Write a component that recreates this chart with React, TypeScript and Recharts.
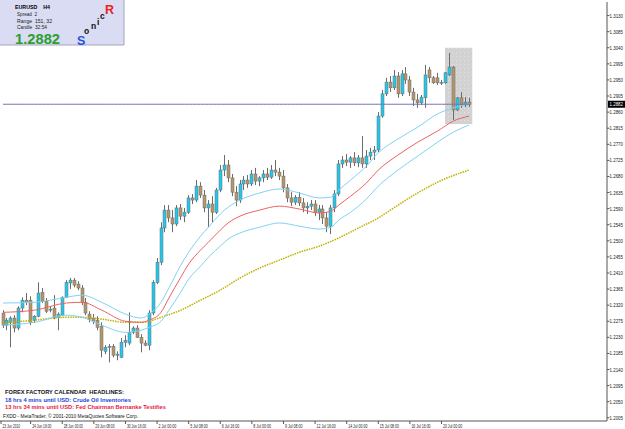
import { ComposedChart, Bar, Line, XAxis, YAxis, ReferenceArea } from "recharts";

// EURUSD H4, one entry per candle (oldest first)
const OPEN = [
  1.2298, 1.2264, 1.2272, 1.2284, 1.2256, 1.2312, 1.2334, 1.2334, 1.2278, 1.2289,
  1.2356, 1.2331, 1.2306, 1.2312, 1.2286, 1.2292, 1.2342, 1.2382, 1.2390, 1.2379,
  1.2368, 1.2328, 1.2295, 1.2284, 1.2278, 1.2261, 1.2191, 1.2202, 1.2205, 1.2180,
  1.2174, 1.2216, 1.2214, 1.2244, 1.2256, 1.2230, 1.2214, 1.2208, 1.2298, 1.2384,
  1.2440, 1.2536, 1.2586, 1.2564, 1.2547, 1.2592, 1.2569, 1.2580, 1.2620, 1.2614,
  1.2653, 1.2628, 1.2592, 1.2603, 1.2580, 1.2642, 1.2698, 1.2712, 1.2676, 1.2636,
  1.2614, 1.2659, 1.2670, 1.2659, 1.2687, 1.2667, 1.2676, 1.2687, 1.2678, 1.2698,
  1.2692, 1.2681, 1.2648, 1.2620, 1.2608, 1.2622, 1.2606, 1.2592, 1.2597, 1.2603,
  1.2580, 1.2589, 1.2564, 1.2541, 1.2592, 1.2631, 1.2715, 1.2726, 1.2720, 1.2732,
  1.2718, 1.2732, 1.2715, 1.2737, 1.2748, 1.2754, 1.2849, 1.2911, 1.2944, 1.2928,
  1.2961, 1.2911, 1.2967, 1.2950, 1.2916, 1.2894, 1.2886, 1.2900, 1.2978, 1.2956,
  1.2956, 1.2942, 1.2942, 1.2964, 1.2986, 1.2866, 1.2900, 1.2880, 1.2888,
];
const HIGH = [
  1.2306, 1.2284, 1.2289, 1.2292, 1.2317, 1.2342, 1.2354, 1.2345, 1.2292, 1.2384,
  1.2368, 1.2340, 1.2317, 1.2348, 1.2300, 1.2345, 1.2390, 1.2396, 1.2396, 1.2387,
  1.2376, 1.2340, 1.2303, 1.2295, 1.2289, 1.2272, 1.2208, 1.2211, 1.2211, 1.2191,
  1.2228, 1.2236, 1.2300, 1.2261, 1.2264, 1.2239, 1.2222, 1.2306, 1.2390, 1.2452,
  1.2552, 1.2600, 1.2600, 1.2586, 1.2600, 1.2603, 1.2592, 1.2628, 1.2631, 1.2670,
  1.2664, 1.2642, 1.2614, 1.2625, 1.2648, 1.2712, 1.2740, 1.2726, 1.2687, 1.2653,
  1.2670, 1.2681, 1.2684, 1.2698, 1.2704, 1.2681, 1.2698, 1.2704, 1.2712, 1.2726,
  1.2704, 1.2698, 1.2659, 1.2636, 1.2628, 1.2636, 1.2620, 1.2608, 1.2614, 1.2614,
  1.2600, 1.2600, 1.2580, 1.2600, 1.2642, 1.2726, 1.2737, 1.2743, 1.2737, 1.2748,
  1.2740, 1.2793, 1.2754, 1.2760, 1.2765, 1.2860, 1.2922, 1.2956, 1.2961, 1.2978,
  1.2972, 1.2978, 1.2986, 1.2961, 1.2928, 1.2911, 1.2908, 1.2992, 1.2986, 1.2961,
  1.2970, 1.2950, 1.2972, 1.3026, 1.2989, 1.2902, 1.2916, 1.2902, 1.2900,
];
const LOW = [
  1.2256, 1.2250, 1.2202, 1.2244, 1.2250, 1.2300, 1.2320, 1.2264, 1.2270, 1.2286,
  1.2326, 1.2298, 1.2300, 1.2281, 1.2250, 1.2289, 1.2340, 1.2365, 1.2370, 1.2362,
  1.2320, 1.2292, 1.2272, 1.2267, 1.2250, 1.2174, 1.2183, 1.2160, 1.2174, 1.2166,
  1.2172, 1.2202, 1.2208, 1.2239, 1.2228, 1.2188, 1.2205, 1.2194, 1.2292, 1.2379,
  1.2432, 1.2524, 1.2552, 1.2524, 1.2541, 1.2558, 1.2552, 1.2575, 1.2603, 1.2608,
  1.2620, 1.2580, 1.2538, 1.2552, 1.2575, 1.2636, 1.2681, 1.2664, 1.2625, 1.2597,
  1.2606, 1.2642, 1.2648, 1.2653, 1.2656, 1.2653, 1.2664, 1.2670, 1.2673, 1.2681,
  1.2670, 1.2636, 1.2608, 1.2597, 1.2600, 1.2597, 1.2580, 1.2575, 1.2586, 1.2569,
  1.2558, 1.2547, 1.2524, 1.2519, 1.2580, 1.2625, 1.2704, 1.2709, 1.2704, 1.2709,
  1.2706, 1.2704, 1.2704, 1.2726, 1.2726, 1.2748, 1.2844, 1.2905, 1.2916, 1.2922,
  1.2900, 1.2905, 1.2939, 1.2905, 1.2877, 1.2872, 1.2880, 1.2872, 1.2942, 1.2939,
  1.2936, 1.2936, 1.2939, 1.2961, 1.2838, 1.2863, 1.2872, 1.2874, 1.2874,
];
const CLOSE = [
  1.2264, 1.2278, 1.2284, 1.2256, 1.2312, 1.2334, 1.2328, 1.2272, 1.2289, 1.2354,
  1.2331, 1.2303, 1.2309, 1.2286, 1.2295, 1.2342, 1.2384, 1.2390, 1.2376, 1.2368,
  1.2328, 1.2298, 1.2281, 1.2275, 1.2258, 1.2194, 1.2202, 1.2205, 1.2180, 1.2183,
  1.2216, 1.2222, 1.2244, 1.2256, 1.2230, 1.2214, 1.2208, 1.2298, 1.2384, 1.2440,
  1.2536, 1.2586, 1.2564, 1.2547, 1.2592, 1.2569, 1.2580, 1.2620, 1.2614, 1.2653,
  1.2628, 1.2592, 1.2603, 1.2580, 1.2642, 1.2698, 1.2712, 1.2676, 1.2636, 1.2614,
  1.2659, 1.2670, 1.2659, 1.2687, 1.2667, 1.2676, 1.2687, 1.2678, 1.2698, 1.2692,
  1.2681, 1.2648, 1.2620, 1.2608, 1.2622, 1.2606, 1.2592, 1.2597, 1.2603, 1.2580,
  1.2589, 1.2564, 1.2541, 1.2592, 1.2631, 1.2715, 1.2726, 1.2720, 1.2732, 1.2718,
  1.2732, 1.2715, 1.2737, 1.2748, 1.2754, 1.2849, 1.2911, 1.2944, 1.2928, 1.2961,
  1.2911, 1.2967, 1.2950, 1.2916, 1.2894, 1.2886, 1.2902, 1.2964, 1.2956, 1.2942,
  1.2942, 1.2943, 1.2970, 1.2986, 1.2866, 1.2900, 1.2880, 1.2888, 1.2882,
];

// moving averages as [candle index, price]
const EMA_HIGH: [number, number][] = [
  [0, 1.2326], [8, 1.2328], [16, 1.2342], [20, 1.2348], [25, 1.2328], [31, 1.2295], [35, 1.2284],
  [37, 1.2295], [40, 1.2328], [42, 1.2368], [45, 1.2432], [47, 1.2468], [50, 1.2513], [52, 1.2538],
  [55, 1.2575], [57, 1.2594], [60, 1.2614], [65, 1.2634], [70, 1.2645], [75, 1.2634], [80, 1.2620],
  [83, 1.2622], [85, 1.2642], [88, 1.2670], [92, 1.2709], [95, 1.2746], [100, 1.2785], [105, 1.2818],
  [110, 1.2855], [114, 1.2872], [118, 1.2883],
];
const EMA_CLOSE: [number, number][] = [
  [0, 1.2300], [8, 1.2306], [16, 1.2326], [20, 1.2328], [25, 1.2306], [31, 1.2275], [35, 1.2272],
  [37, 1.2278], [40, 1.2300], [42, 1.2340], [45, 1.2398], [47, 1.2435], [50, 1.2474], [52, 1.2496],
  [55, 1.2530], [57, 1.2550], [60, 1.2569], [65, 1.2586], [70, 1.2597], [75, 1.2589], [80, 1.2578],
  [83, 1.2583], [85, 1.2600], [88, 1.2625], [92, 1.2662], [95, 1.2698], [100, 1.2740], [105, 1.2776],
  [110, 1.2807], [114, 1.2835], [118, 1.2849],
];
const EMA_LOW: [number, number][] = [
  [0, 1.2264], [8, 1.2272], [16, 1.2292], [20, 1.2286], [25, 1.2264], [31, 1.2244], [35, 1.2250],
  [37, 1.2258], [40, 1.2275], [42, 1.2306], [45, 1.2356], [47, 1.2393], [50, 1.2429], [52, 1.2454],
  [55, 1.2485], [57, 1.2505], [60, 1.2522], [65, 1.2538], [70, 1.2550], [75, 1.2541], [80, 1.2533],
  [83, 1.2538], [85, 1.2558], [88, 1.2580], [92, 1.2617], [95, 1.2653], [100, 1.2698], [105, 1.2737],
  [110, 1.2776], [114, 1.2804], [118, 1.2824],
];
const EMA_89: [number, number][] = [
  [0, 1.2270], [8, 1.2278], [16, 1.2286], [20, 1.2286], [25, 1.2281], [31, 1.2272], [35, 1.2272],
  [37, 1.2275], [40, 1.2286], [45, 1.2306], [50, 1.2334], [55, 1.2362], [60, 1.2396], [65, 1.2424],
  [70, 1.2446], [75, 1.2468], [80, 1.2485], [85, 1.2508], [90, 1.2536], [95, 1.2564], [100, 1.2600],
  [105, 1.2634], [110, 1.2664], [118, 1.2698],
];

const PRICE_TICKS = [
  1.2005, 1.2050, 1.2095, 1.2140, 1.2185, 1.2230, 1.2275, 1.2320, 1.2365, 1.2410, 1.2455, 1.2500, 1.2545,
  1.2590, 1.2635, 1.2680, 1.2725, 1.2770, 1.2815, 1.2860, 1.2905, 1.2950, 1.2995, 1.3040, 1.3085, 1.3130,
];
const LAST_PRICE = 1.2882;
const TIME_TICKS = [-0.5, 7, 15, 23, 31, 39, 47, 55, 63, 71, 79, 87, 95, 103, 111];
const TIME_LABELS = [
  "23 Jun 2010", "24 Jun 16:00", "28 Jun 00:00", "29 Jun 08:00", "30 Jun 16:00", "2 Jul 00:00", "5 Jul 08:00",
  "6 Jul 16:00", "8 Jul 00:00", "9 Jul 08:00", "12 Jul 16:00", "14 Jul 00:00", "15 Jul 08:00", "16 Jul 16:00",
  "20 Jul 00:00",
];

const FONT = "'Liberation Sans', Arial, sans-serif";
const BULL = "#22c8ec";
const BEAR = "#b4966a";
const WICK = "#6c6c6c";
const SP = "\u00a0\u00a0";

// eslint-disable-next-line @typescript-eslint/no-explicit-any
function Candle({ x, y, width, height, payload }: any) {
  const top = Math.min(y, y + height);
  const h = Math.abs(height);
  const { open, close, high, low } = payload;
  const k = h / (high - low);
  const bTop = top + (high - Math.max(open, close)) * k;
  const bBot = top + (high - Math.min(open, close)) * k;
  const cx = Math.round(x + width / 2) + 0.5;
  return (
    <g>
      <line x1={cx} x2={cx} y1={top} y2={top + h} stroke={WICK} strokeWidth={1} />
      <rect x={cx - 1.5} y={bTop} width={3} height={Math.max(bBot - bTop, 0.8)}
        fill={close >= open ? BULL : BEAR} stroke={WICK} strokeWidth={0.5} />
    </g>
  );
}

// eslint-disable-next-line @typescript-eslint/no-explicit-any
function PriceTick({ x, y, payload }: any) {
  const v = payload.value as number;
  if (v === LAST_PRICE) {
    return (
      <g>
        <rect x={x + 1} y={y - 3.5} width={17} height={7} fill="#000" />
        <text x={x + 2.5} y={y + 2} fontSize={5.5} fontFamily={FONT} fill="#fff" textLength={13.5} lengthAdjust="spacingAndGlyphs">{v.toFixed(4)}</text>
      </g>
    );
  }
  return (
    <g>
      <line x1={x} x2={x + 2.5} y1={y} y2={y} stroke="#555" />
      <text x={x + 2.5} y={y + 2} fontSize={5.5} fontFamily={FONT} fill="#222" textLength={13.5} lengthAdjust="spacingAndGlyphs">{v.toFixed(4)}</text>
    </g>
  );
}

// eslint-disable-next-line @typescript-eslint/no-explicit-any
function TimeTick({ x, y, payload, index }: any) {
  const label = TIME_LABELS[index] ?? String(payload.value);
  return (
    <g>
      <line x1={x} x2={x} y1={y} y2={y + 3} stroke="#555" />
      <text x={x + 1.5} y={y + 6.5} fontSize={5.5} fontFamily={FONT} fill="#222" textLength={label.length * 1.6} lengthAdjust="spacingAndGlyphs">{label}</text>
    </g>
  );
}

function Overlay() {
  const t = { fontFamily: FONT, lengthAdjust: "spacingAndGlyphs" as const };
  return (
    <svg width={625} height={429} style={{ position: "absolute", left: 0, top: 0, pointerEvents: "none" }}>
      <rect x={0} y={0} width={124} height={45} fill="#d9dcf2" />
      <polyline points="124,0 124,45 0,45" fill="none" stroke="#a4a6bc" />
      <text x={15} y={9} fontSize={6} fontWeight="bold" {...t} textLength={35}>{`EURUSD${SP}${SP}H4`}</text>
      <text x={17} y={16} fontSize={5.5} fill="#222" {...t} textLength={20}>{`Spread${SP}2`}</text>
      <text x={17} y={22.5} fontSize={5.5} fill="#222" {...t} textLength={35}>{`Range${SP}151, 32`}</text>
      <text x={17} y={29} fontSize={5.5} fill="#222" {...t} textLength={30}>{`Candle${SP}32:54`}</text>
      <text x={15} y={44} fontSize={14} fontWeight="bold" fill="#2e9e2e" {...t} textLength={45}>1.2882</text>
      <text x={77} y={45} fontSize={12.5} fontWeight="bold" fill="#2453e0" fontFamily={FONT}>S</text>
      <text x={84} y={33.5} fontSize={8.5} fontWeight="bold" fill="#111" fontFamily={FONT}>o</text>
      <text x={91} y={28.5} fontSize={8.5} fontWeight="bold" fill="#111" fontFamily={FONT}>n</text>
      <text x={97} y={24.5} fontSize={8.5} fontWeight="bold" fill="#111" fontFamily={FONT}>i</text>
      <text x={100} y={18.5} fontSize={8.5} fontWeight="bold" fill="#111" fontFamily={FONT}>c</text>
      <text x={105} y={13.5} fontSize={12.5} fontWeight="bold" fill="#ee2222" fontFamily={FONT}>R</text>

      <text x={5} y={394} fontSize={5.5} fontWeight="bold" fill="#111" {...t} textLength={119}>{`FOREX FACTORY CALENDAR${SP}HEADLINES:`}</text>
      <text x={5} y={402} fontSize={5.5} fontWeight="bold" fill="#1c3fd8" {...t} textLength={126}>18 hrs 4 mins until USD: Crude Oil Inventories</text>
      <text x={5} y={409} fontSize={5.5} fontWeight="bold" fill="#e8173f" {...t} textLength={161}>13 hrs 34 mins until USD: Fed Chairman Bernanke Testifies</text>
      <text x={3} y={418} fontSize={5.5} fill="#111" {...t} textLength={135}>FXDD - MetaTrader, © 2001-2010 MetaQuotes Software Corp.</text>
    </svg>
  );
}

export default function App() {
  const rows: Record<string, unknown>[] = OPEN.map((o, i) => ({
    i, open: o, high: HIGH[i], low: LOW[i], close: CLOSE[i], range: [LOW[i], HIGH[i]],
  }));
  EMA_HIGH.forEach(([i, v]) => { rows[i].emaHigh = v; });
  EMA_CLOSE.forEach(([i, v]) => { rows[i].emaClose = v; });
  EMA_LOW.forEach(([i, v]) => { rows[i].emaLow = v; });
  EMA_89.forEach(([i, v]) => { rows[i].ema89 = v; });

  return (
    <div style={{ position: "relative", width: 625, height: 429, background: "#fff" }}>
      <style>{"body{margin:0}"}</style>
      <ComposedChart width={625} height={429} data={rows} margin={{ top: 2, right: 0, bottom: 0, left: 0 }}>
        <defs>
          <pattern id="stip" width={4} height={4} patternUnits="userSpaceOnUse">
            <rect width={4} height={4} fill="#d2d2d2" />
            <rect width={1} height={1} fill="#e2e2e2" />
          </pattern>
        </defs>
        <XAxis dataKey="i" type="number" domain={[-0.76, 152.9]} allowDataOverflow ticks={TIME_TICKS} interval={0}
          height={8} tickSize={0} tickMargin={0} tickLine={false} axisLine={{ stroke: "#555" }} tick={<TimeTick />} />
        <YAxis orientation="right" type="number" domain={[1.1996, 1.3168]} allowDataOverflow width={18}
          ticks={[...PRICE_TICKS, LAST_PRICE]} interval={0} tickSize={0} tickMargin={0} tickLine={false}
          axisLine={{ stroke: "#555" }} tick={<PriceTick />} />
        <ReferenceArea x1={111.9} x2={118.8} y1={1.2827} y2={1.3040} fill="url(#stip)" fillOpacity={1} stroke="none" />
        <Bar dataKey="range" barSize={3} shape={<Candle />} isAnimationActive={false} />
        <Line dataKey="ema89" type="monotone" connectNulls dot={false} stroke="#c2b000" strokeWidth={1.5} strokeDasharray="1.5 1" isAnimationActive={false} />
        <Line dataKey="emaHigh" type="monotone" connectNulls dot={false} stroke="#80d2f4" strokeWidth={1} isAnimationActive={false} />
        <Line dataKey="emaLow" type="monotone" connectNulls dot={false} stroke="#80d2f4" strokeWidth={1} isAnimationActive={false} />
        <Line dataKey="emaClose" type="monotone" connectNulls dot={false} stroke="#ef6060" strokeWidth={1} isAnimationActive={false} />
        <Line dataKey={() => LAST_PRICE} dot={false} stroke="#7474b4" strokeWidth={1} isAnimationActive={false} />
      </ComposedChart>
      <Overlay />
    </div>
  );
}
